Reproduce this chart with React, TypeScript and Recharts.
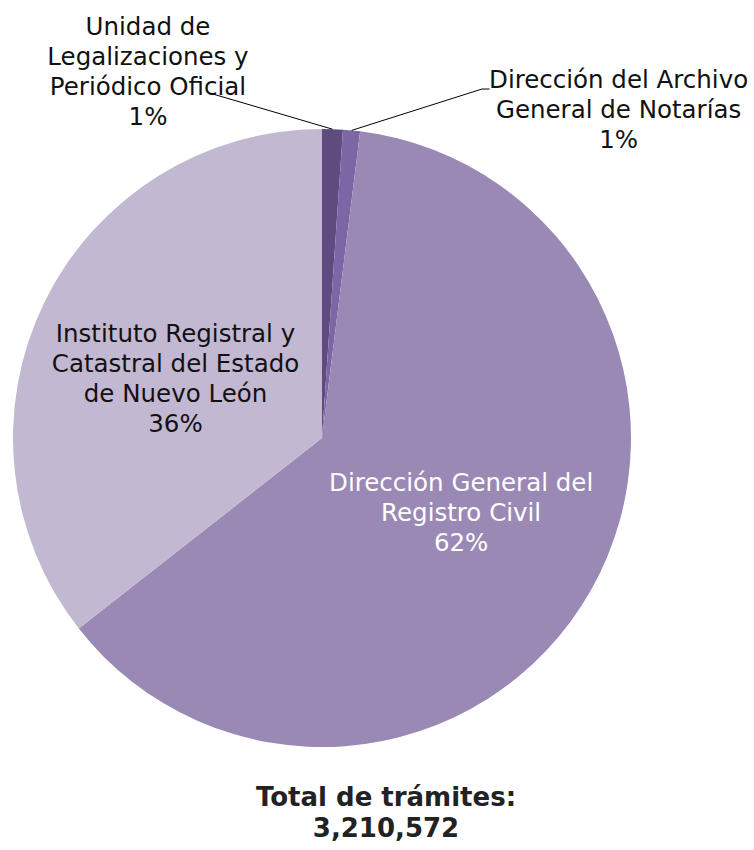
import React from 'react';
import { PieChart, Pie, Cell } from 'recharts';

const names = [
  'Unidad de Legalizaciones y Periódico Oficial',
  'Dirección del Archivo General de Notarías',
  'Dirección General del Registro Civil',
  'Instituto Registral y Catastral del Estado de Nuevo León',
];
const labelLines = [
  ['Unidad de', 'Legalizaciones y', 'Periódico Oficial'],
  ['Dirección del Archivo', 'General de Notarías'],
  ['Dirección General del', 'Registro Civil'],
  ['Instituto Registral y', 'Catastral del Estado', 'de Nuevo León'],
];
const values = [34700, 28600, 2005000, 1142272];
const totalLabel = 'Total de trámites:';
const totalValue = '3,210,572';

const colors = ['#5f4b80', '#7d66a5', '#9b89b5', '#c3b8d1'];
const textColors = ['#111', '#111', '#ffffff', '#111'];

const data = names.map((n, i) => ({ name: n, value: values[i], idx: i }));

const FONT = "'DejaVu Sans', sans-serif";
const FS = 24.5;
const LH = 30;

// layout of labels: outside labels anchored at slice's outer point
const layout: any[] = [
  { outside: true, dx: -184.5, dy: -94, line: [[-122.5, -36]] },
  { outside: true, dx: 267, dy: -42.4, line: [[130.4, -41.4], [138, -41.4]] },
  { outside: false, k: 0.51, dx: 2, dy: -3.5 },
  { outside: false, k: 0.52, dx: -2, dy: 10 },
];

const RAD = Math.PI / 180;

const renderLabel = (props: any) => {
  const { cx, cy, midAngle, outerRadius, percent, index } = props;
  const L = layout[index];
  const lines = [...labelLines[index], `${Math.round(percent * 100)}%`];
  const cos = Math.cos(-midAngle * RAD);
  const sin = Math.sin(-midAngle * RAD);
  if (L.outside) {
    const ox = cx + outerRadius * cos;
    const oy = cy + outerRadius * sin;
    const pts = [[ox, oy], ...L.line.map((p: number[]) => [ox + p[0], oy + p[1]])];
    return (
      <g key={`lab-${index}`}>
        <polyline
          points={pts.map((p) => p.join(',')).join(' ')}
          fill="none"
          stroke="#000"
          strokeWidth={1}
        />
        {lines.map((t, i) => (
          <text
            key={i}
            x={ox + L.dx}
            y={oy + L.dy + i * LH}
            textAnchor="middle"
            fill={textColors[index]}
            fontSize={FS}
            fontFamily={FONT}
          >
            {t}
          </text>
        ))}
      </g>
    );
  }
  const ax = cx + outerRadius * L.k * cos + L.dx;
  const ay = cy + outerRadius * L.k * sin + L.dy;
  const n = lines.length;
  return (
    <g key={`lab-${index}`}>
      {lines.map((t, i) => (
        <text
          key={i}
          x={ax}
          y={ay + (i - (n - 1) / 2) * LH + 9}
          textAnchor="middle"
          fill={textColors[index]}
          fontSize={FS}
          fontFamily={FONT}
        >
          {t}
        </text>
      ))}
    </g>
  );
};

export default function App() {
  return (
    <div style={{ position: 'absolute', left: 0, top: 0, width: 754, height: 850, background: '#fff' }}>
      <PieChart width={754} height={850} margin={{ top: 0, right: 0, bottom: 0, left: 0 }}>
        <Pie
          data={data}
          dataKey="value"
          nameKey="name"
          cx={322}
          cy={438}
          outerRadius={309}
          startAngle={90}
          endAngle={-270}
          stroke="none"
          label={renderLabel}
          labelLine={false}
          isAnimationActive={false}
        >
          {data.map((d, i) => (
            <Cell key={i} fill={colors[i]} />
          ))}
        </Pie>
      </PieChart>
      <div
        style={{
          position: 'absolute',
          left: 186,
          width: 400,
          top: 782,
          textAlign: 'center',
          fontFamily: FONT,
          fontWeight: 'bold',
          fontSize: 26,
          lineHeight: '31px',
          color: '#222',
        }}
      >
        <div>{totalLabel}</div>
        <div>{totalValue}</div>
      </div>
    </div>
  );
}
